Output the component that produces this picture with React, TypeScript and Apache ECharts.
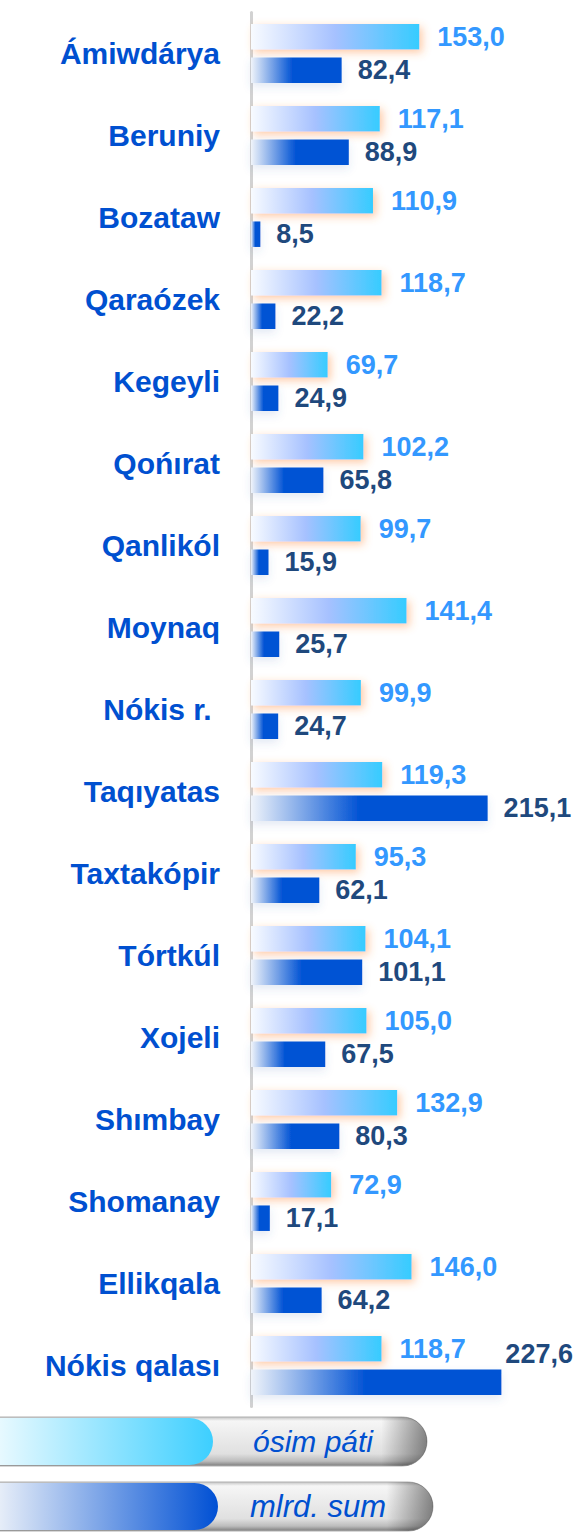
import React, { useEffect, useRef } from "react";
import * as echarts from "echarts";

const categories = [
  "Ámiwdárya", "Beruniy", "Bozataw", "Qaraózek", "Kegeyli", "Qońırat", "Qanlikól",
  "Moynaq", "Nókis r. ", "Taqıyatas", "Taxtakópir", "Tórtkúl", "Xojeli", "Shımbay",
  "Shomanay", "Ellikqala", "Nókis qalası",
];
const osimPati = [153.0, 117.1, 110.9, 118.7, 69.7, 102.2, 99.7, 141.4, 99.9, 119.3, 95.3, 104.1, 105.0, 132.9, 72.9, 146.0, 118.7];
const mlrdSum = [82.4, 88.9, 8.5, 22.2, 24.9, 65.8, 15.9, 25.7, 24.7, 215.1, 62.1, 101.1, 67.5, 80.3, 17.1, 64.2, 227.6];
const seriesNames = ["ósim páti", "mlrd. sum"];

const FONT = "'Liberation Sans', Arial, sans-serif";
const fmt = (v: number) => v.toFixed(1).replace(".", ",");

export default function App() {
  const ref = useRef<HTMLDivElement>(null);
  useEffect(() => {
    if (!ref.current) return;
    const chart = echarts.init(ref.current, null, { renderer: "svg" });

    const lin = (stops: [number, string][], vertical = false) =>
      new echarts.graphic.LinearGradient(0, 0, vertical ? 0 : 1, vertical ? 1 : 0,
        stops.map(([offset, color]) => ({ offset, color })));

    const metal = () =>
      lin([[0, "#c4c4c4"], [0.08, "#f6f6f6"], [0.4, "#ebebeb"], [0.75, "#e0e0e0"], [0.9, "#bcbcbc"], [1, "#7c7c7c"]], true);

    const pill = (y: number, w: number, fillW: number, grad: any, text: string, tx: number, fs: number) => [
      { type: "rect", shape: { x: -30, y, width: w, height: 49, r: 24.5 }, style: { fill: metal(), stroke: "#b0b0b0", lineWidth: 1 } },
      { type: "rect", shape: { x: -30, y, width: w, height: 49, r: 24.5 }, style: { fill: lin([[0, "rgba(0,0,0,0)"], [0.9, "rgba(0,0,0,0)"], [1, "rgba(0,0,0,0.45)"]]) } },
      { type: "rect", shape: { x: -30, y: y + 1, width: fillW, height: 47, r: 23.5 }, style: { fill: grad } },
      { type: "text", x: tx, y: y + 24.5, style: { text, fill: "#0050d0", font: `italic ${fs}px ${FONT}`, align: "center", verticalAlign: "middle" } },
    ];

    chart.setOption({
      animation: false,
      grid: { left: 251, top: 12.5, height: 1394, right: 51, containLabel: false },
      xAxis: { type: "value", min: 0, max: 250, show: false },
      yAxis: {
        type: "category",
        data: categories,
        inverse: true,
        offset: 3,
        axisLine: { show: true, lineStyle: { color: "#d2d2d2", width: 3 } },
        axisTick: { show: false },
        axisLabel: { margin: 28, color: "#0050d0", fontSize: 30, fontWeight: "bold", fontFamily: FONT, padding: [0, 0, 4, 0] },
      },
      series: [
        {
          name: seriesNames[0],
          type: "bar",
          data: osimPati,
          barWidth: 25.5,
          barGap: "31%",
          itemStyle: {
            color: lin([[0, "#f8fbff"], [0.5, "#a6c1ff"], [1, "#36ccff"]]),
            shadowColor: "rgba(255,140,60,0.45)",
            shadowBlur: 8,
            shadowOffsetX: 3,
            shadowOffsetY: 3,
          },
          label: {
            show: true, position: "right", distance: 18, formatter: (p: any) => fmt(p.value),
            color: "#3398ff", fontSize: 27, fontWeight: "bold", fontFamily: FONT,
          },
        },
        {
          name: seriesNames[1],
          type: "bar",
          data: mlrdSum.map((v, i) =>
            i === mlrdSum.length - 1 ? { value: v, label: { distance: 4, offset: [0, -28] } } : v),
          barWidth: 25.5,
          barGap: "31%",
          itemStyle: {
            color: lin([[0, "#f0f4fa"], [0.46, "#0052d4"], [1, "#0052d4"]]),
            shadowColor: "rgba(60,100,180,0.14)",
            shadowBlur: 8,
            shadowOffsetY: 4,
          },
          label: {
            show: true, position: "right", distance: 16, formatter: (p: any) => fmt(p.value),
            color: "#1f497d", fontSize: 27, fontWeight: "bold", fontFamily: FONT,
          },
        },
      ],
      graphic: [
        ...pill(1417, 457, 243, lin([[0, "#ffffff"], [1, "#3dcfff"]]), seriesNames[0], 313, 30),
        ...pill(1482, 463, 248, lin([[0, "#ffffff"], [0.12, "#e6edf8"], [1, "#0050d4"]]), seriesNames[1], 318, 31),
      ],
    });
    return () => chart.dispose();
  }, []);
  return <div ref={ref} style={{ position: "absolute", left: 0, top: 0, width: 577, height: 1534 }} />;
}
